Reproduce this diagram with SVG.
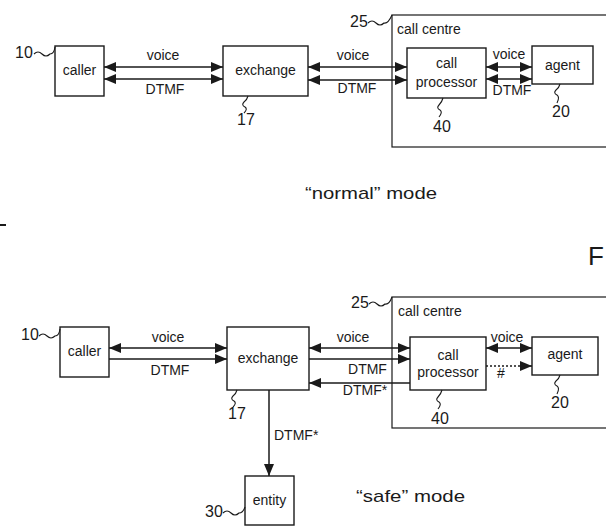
<svg xmlns="http://www.w3.org/2000/svg" width="606" height="527" viewBox="0 0 606 527">
<defs>
<marker id="ah" markerUnits="userSpaceOnUse" markerWidth="12" markerHeight="10" refX="12" refY="5" orient="auto-start-reverse">
<path d="M0,0 L12,5 L0,10 z" fill="#1a1a1a"/>
</marker>
<style>
.box{fill:#fff;stroke:#1a1a1a;stroke-width:1.4}
.frame{fill:none;stroke:#1a1a1a;stroke-width:1.2}
.t{font-family:"Liberation Sans",Arial,sans-serif;font-size:14px;fill:#1a1a1a}
.c{text-anchor:middle}
.n{font-family:"Liberation Sans",Arial,sans-serif;font-size:16px;fill:#1a1a1a}
.m{font-family:"Liberation Sans",Arial,sans-serif;font-size:17px;fill:#1a1a1a}
.ln{fill:none;stroke:#1a1a1a;stroke-width:1.5}
.dbl{marker-start:url(#ah);marker-end:url(#ah)}
.one{marker-end:url(#ah)}
.sq{fill:none;stroke:#1a1a1a;stroke-width:1.1}
</style>
</defs>
<rect width="606" height="527" fill="#fff"/>

<!-- ===== normal mode ===== -->
<g id="callcentre-top">
<rect class="frame" x="392" y="15" width="230" height="132"/>
<text class="t" x="397" y="34">call centre</text>
<text class="n" x="350" y="27">25</text>
<path class="sq" d="M368,23 q4,-4 8,0 t8,0 q4,1 8,-8"/>
</g>
<g id="caller-top">
<rect class="box" x="55" y="46" width="49" height="50"/>
<text class="t c" x="79.5" y="75">caller</text>
<text class="n" x="15" y="58">10</text>
<path class="sq" d="M34,54 q4,-4 8,0 t8,0 q4,0 5,-7"/>
</g>
<g id="exchange-top">
<rect class="box" x="223" y="46" width="85" height="50"/>
<text class="t c" x="265.5" y="75">exchange</text>
<text class="n" x="237" y="125">17</text>
<path class="sq" d="M248,96 q-1,4 -4,6 q-3,3 1,5 q3,2 -1,6"/>
</g>
<g id="processor-top">
<rect class="box" x="407" y="48" width="79" height="50"/>
<text class="t c" x="446.5" y="68">call</text>
<text class="t c" x="446.5" y="87">processor</text>
<text class="n" x="433" y="132">40</text>
<path class="sq" d="M443,98 q-1,4 -4,7 q-3,3 1,5 q3,2 -1,7"/>
</g>
<g id="agent-top">
<rect class="box" x="532" y="46" width="61" height="38"/>
<text class="t c" x="562.5" y="70">agent</text>
<text class="n" x="552" y="117">20</text>
<path class="sq" d="M560,84 q-1,4 -4,6 q-3,3 1,5 q3,2 0,8"/>
</g>
<g id="connectors-top">
<line class="ln dbl" x1="104" y1="67" x2="223" y2="67"/>
<line class="ln dbl" x1="104" y1="79" x2="223" y2="79"/>
<text class="t c" x="163" y="60">voice</text>
<text class="t c" x="165" y="94">DTMF</text>
<line class="ln dbl" x1="308" y1="67" x2="407" y2="67"/>
<line class="ln dbl" x1="308" y1="80" x2="407" y2="80"/>
<text class="t c" x="353" y="60">voice</text>
<text class="t c" x="357" y="93">DTMF</text>
<line class="ln dbl" x1="486" y1="67" x2="532" y2="67"/>
<line class="ln dbl" x1="486" y1="79" x2="532" y2="79"/>
<text class="t c" x="509" y="59">voice</text>
<text class="t c" x="512" y="95">DTMF</text>
</g>
<text class="m" x="305" y="199" textLength="132" lengthAdjust="spacingAndGlyphs">“normal” mode</text>
<line x1="0" y1="225" x2="6" y2="225" stroke="#1a1a1a" stroke-width="2"/>
<text x="588" y="265" style="font-family:'Liberation Sans',Arial,sans-serif;font-size:26px;fill:#1a1a1a">F</text>

<!-- ===== safe mode ===== -->
<g id="callcentre-bottom">
<rect class="frame" x="392" y="297" width="230" height="131"/>
<text class="t" x="398" y="316">call centre</text>
<text class="n" x="351" y="308">25</text>
<path class="sq" d="M369,304 q4,-4 8,0 t8,0 q4,1 7,-7"/>
</g>
<g id="caller-bottom">
<rect class="box" x="60" y="327" width="49" height="50"/>
<text class="t c" x="84.5" y="356">caller</text>
<text class="n" x="21" y="340">10</text>
<path class="sq" d="M39,336 q4,-4 8,0 t8,0 q4,0 5,-7"/>
</g>
<g id="exchange-bottom">
<rect class="box" x="227" y="327" width="82" height="63"/>
<text class="t c" x="268" y="363">exchange</text>
<text class="n" x="228" y="419">17</text>
<path class="sq" d="M237,390 q-1,4 -4,6 q-3,3 1,5 q3,2 -1,6"/>
</g>
<g id="processor-bottom">
<rect class="box" x="410" y="337" width="76" height="53"/>
<text class="t c" x="448" y="360">call</text>
<text class="t c" x="448" y="377">processor</text>
<text class="n" x="431" y="424">40</text>
<path class="sq" d="M442,390 q-1,4 -4,7 q-3,3 1,5 q3,2 -1,7"/>
</g>
<g id="agent-bottom">
<rect class="box" x="532" y="337" width="66" height="38"/>
<text class="t c" x="565" y="359">agent</text>
<text class="n" x="551" y="408">20</text>
<path class="sq" d="M560,375 q-1,4 -4,6 q-3,3 1,5 q3,2 0,8"/>
</g>
<g id="entity">
<rect class="box" x="245" y="476" width="49" height="49"/>
<text class="t c" x="269.5" y="505">entity</text>
<text class="n" x="205" y="517">30</text>
<path class="sq" d="M223,513 q4,-4 8,0 t8,0 q4,0 6,-6"/>
</g>
<g id="connectors-bottom">
<line class="ln dbl" x1="109" y1="348" x2="227" y2="348"/>
<line class="ln one" x1="109" y1="359" x2="227" y2="359"/>
<text class="t c" x="168" y="342">voice</text>
<text class="t c" x="170" y="375">DTMF</text>
<line class="ln dbl" x1="309" y1="348" x2="410" y2="348"/>
<line class="ln one" x1="309" y1="359" x2="410" y2="359"/>
<line class="ln one" x1="410" y1="383" x2="309" y2="383"/>
<text class="t c" x="353" y="342">voice</text>
<text class="t c" x="367.5" y="374">DTMF</text>
<text class="t c" x="365" y="395">DTMF*</text>
<line class="ln dbl" x1="486" y1="348" x2="532" y2="348"/>
<text class="t c" x="507" y="342">voice</text>
<line class="ln one" x1="486" y1="366" x2="532" y2="366" stroke-dasharray="2,2"/>
<text class="t c" x="501" y="378">#</text>
<line class="ln one" x1="269" y1="390" x2="269" y2="476"/>
<text class="t" x="274" y="440">DTMF*</text>
</g>
<text class="m" x="356" y="502" textLength="109" lengthAdjust="spacingAndGlyphs">“safe” mode</text>
</svg>
